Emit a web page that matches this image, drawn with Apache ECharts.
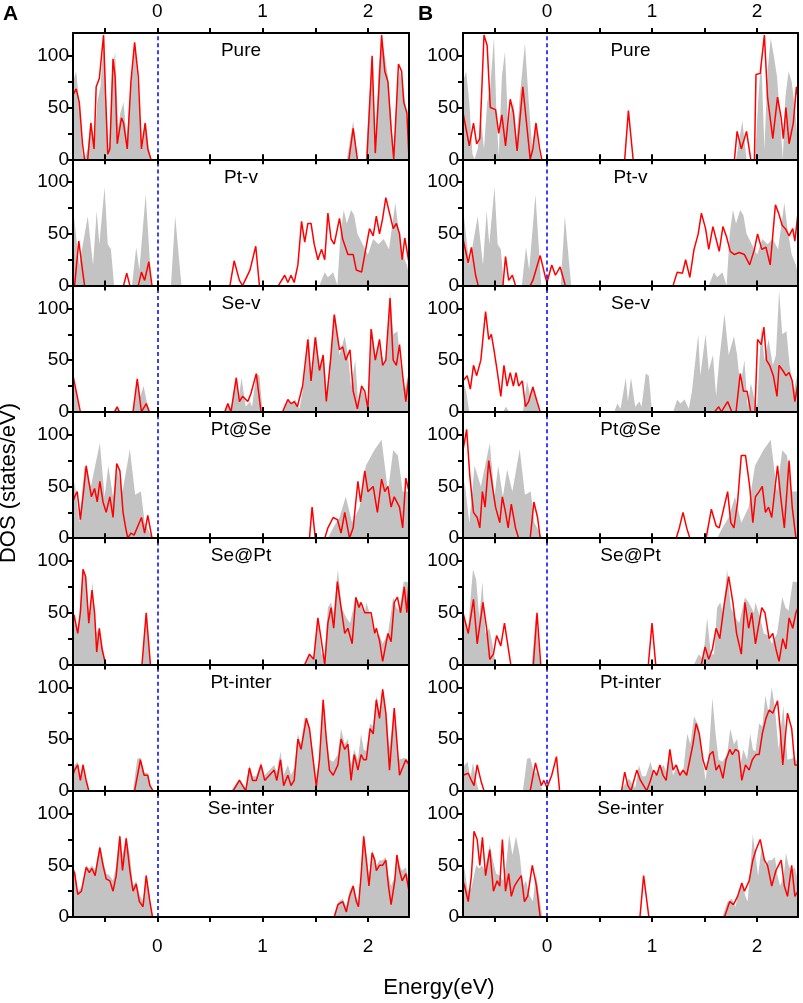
<!DOCTYPE html>
<html lang="en">
<head>
  <meta charset="UTF-8">
  <title>DOS panels</title>
  <script src="https://cdn.jsdelivr.net/npm/echarts@6/dist/echarts.min.js"></script>
  <style>
    html, body { margin: 0; padding: 0; background: #ffffff; }
    #chart { width: 803px; height: 1003px; }
  </style>
</head>
<body>
  <div id="chart"></div>
  <script>
    // grey = total DOS (same in both columns), red A / red B = projected DOS
    // every point is [energy (eV), DOS (states/eV)]
    var pureGrey = [[-0.80,75],[-0.77,85],[-0.74,55],[-0.71,5],[-0.69,0],[-0.66,10],[-0.63,40],[-0.60,10],[-0.57,55],[-0.54,70],[-0.505,118],[-0.48,40],[-0.46,3],[-0.43,80],[-0.40,104],[-0.37,30],[-0.35,45],[-0.32,55],[-0.29,20],[-0.26,60],[-0.21,112],[-0.17,50],[-0.14,10],[-0.11,38],[-0.08,10],[-0.06,0],[1.80,0],[1.86,37],[1.90,0],[1.98,0],[2.01,55],[2.04,100],[2.07,10],[2.10,85],[2.13,117],[2.16,100],[2.19,80],[2.22,40],[2.245,0],[2.27,60],[2.30,85],[2.33,75],[2.36,50],[2.39,15]];
    var pureRedA = [[-0.80,62],[-0.77,68],[-0.74,55],[-0.71,15],[-0.69,0],[-0.66,0],[-0.63,35],[-0.60,10],[-0.58,70],[-0.55,78],[-0.51,120],[-0.49,60],[-0.47,5],[-0.45,10],[-0.42,97],[-0.40,80],[-0.38,15],[-0.34,40],[-0.32,35],[-0.285,10],[-0.25,75],[-0.215,113],[-0.18,80],[-0.15,10],[-0.115,35],[-0.09,10],[-0.06,0],[1.82,0],[1.86,30],[1.90,0],[1.99,0],[2.04,100],[2.07,6],[2.10,60],[2.13,120],[2.16,85],[2.19,75],[2.22,30],[2.245,0],[2.27,50],[2.29,92],[2.32,85],[2.34,55],[2.37,45],[2.39,0]];
    var pureRedB = [[-0.80,45],[-0.74,13],[-0.70,35],[-0.67,15],[-0.64,20],[-0.60,120],[-0.57,110],[-0.54,50],[-0.49,48],[-0.46,25],[-0.43,43],[-0.395,13],[-0.35,58],[-0.32,45],[-0.285,8],[-0.23,70],[-0.19,30],[-0.16,0],[-0.135,10],[-0.105,35],[-0.07,10],[-0.05,0],[0.74,0],[0.775,47],[0.82,0],[1.785,0],[1.81,27],[1.85,10],[1.90,27],[1.94,0],[1.975,0],[1.99,82],[2.03,83],[2.07,120],[2.10,60],[2.15,20],[2.195,60],[2.23,40],[2.25,20],[2.275,50],[2.305,15],[2.345,35],[2.375,70],[2.39,60]];

    var ptvGrey = [[-0.80,75],[-0.74,20],[-0.66,67],[-0.61,20],[-0.575,72],[-0.55,40],[-0.50,95],[-0.47,40],[-0.44,35],[-0.41,0],[-0.24,0],[-0.20,37],[-0.17,15],[-0.11,88],[-0.08,40],[-0.055,0],[0.13,0],[0.17,67],[0.23,0],[1.54,0],[1.59,13],[1.62,8],[1.67,13],[1.71,0],[1.74,50],[1.77,73],[1.80,60],[1.84,73],[1.87,68],[1.90,50],[1.95,40],[2.0,30],[2.05,45],[2.10,40],[2.15,45],[2.20,35],[2.26,80],[2.29,55],[2.33,30],[2.37,20],[2.39,10]];
    var ptvRedA = [[-0.80,0],[-0.785,0],[-0.745,43],[-0.71,15],[-0.69,0],[-0.32,0],[-0.29,12],[-0.26,0],[-0.18,0],[-0.15,13],[-0.12,5],[-0.08,23],[-0.05,0],[0.69,0],[0.73,24],[0.78,5],[0.81,0],[0.88,15],[0.935,38],[0.97,0],[1.15,0],[1.21,10],[1.24,3],[1.27,10],[1.30,3],[1.335,20],[1.37,62],[1.40,42],[1.43,60],[1.46,60],[1.49,40],[1.525,25],[1.56,35],[1.59,25],[1.62,70],[1.65,45],[1.68,40],[1.73,65],[1.76,45],[1.81,30],[1.86,30],[1.89,15],[1.94,13],[1.97,30],[2.015,55],[2.05,48],[2.08,67],[2.11,50],[2.14,65],[2.17,85],[2.205,70],[2.24,55],[2.27,60],[2.30,50],[2.325,25],[2.35,46],[2.39,22]];
    var ptvRedB = [[-0.80,45],[-0.75,22],[-0.72,37],[-0.68,10],[-0.655,0],[-0.42,0],[-0.395,28],[-0.365,5],[-0.33,10],[-0.30,0],[-0.16,0],[-0.135,5],[-0.065,29],[-0.015,8],[0,3],[0.045,20],[0.08,10],[0.125,18],[0.175,0],[1.20,0],[1.24,13],[1.29,12],[1.32,25],[1.36,8],[1.40,35],[1.44,50],[1.47,70],[1.51,55],[1.54,35],[1.58,57],[1.61,45],[1.64,33],[1.675,57],[1.71,47],[1.745,33],[1.785,30],[1.83,32],[1.88,30],[1.93,20],[1.975,35],[2.005,50],[2.045,35],[2.085,37],[2.125,20],[2.175,78],[2.205,70],[2.24,58],[2.27,55],[2.305,48],[2.34,55],[2.36,43],[2.39,70]];

    var sevGrey = [[-0.80,30],[-0.77,20],[-0.74,0],[-0.42,0],[-0.39,5],[-0.36,0],[-0.23,0],[-0.19,30],[-0.16,15],[-0.13,25],[-0.10,10],[-0.07,0],[0.64,0],[0.67,8],[0.70,3],[0.75,33],[0.77,10],[0.80,33],[0.84,5],[0.88,10],[0.90,5],[0.94,37],[0.97,35],[1.0,0],[1.2,0],[1.24,12],[1.27,8],[1.31,12],[1.35,3],[1.38,20],[1.44,75],[1.46,35],[1.51,75],[1.54,40],[1.58,55],[1.61,15],[1.64,50],[1.69,95],[1.73,55],[1.78,73],[1.81,55],[1.84,25],[1.88,50],[1.91,5],[1.94,28],[1.97,15],[2.0,5],[2.04,82],[2.07,50],[2.11,70],[2.15,45],[2.18,55],[2.21,117],[2.24,75],[2.28,78],[2.31,45],[2.35,20],[2.39,40]];
    var sevRedA = [[-0.80,35],[-0.785,35],[-0.75,10],[-0.73,0],[-0.405,0],[-0.38,5],[-0.36,0],[-0.23,0],[-0.19,32],[-0.15,0],[-0.105,8],[-0.075,0],[0.64,0],[0.67,8],[0.70,0],[0.75,33],[0.78,10],[0.81,15],[0.86,10],[0.89,18],[0.94,37],[0.985,0],[1.19,0],[1.24,12],[1.27,8],[1.30,10],[1.33,5],[1.38,25],[1.43,70],[1.46,30],[1.50,72],[1.54,40],[1.575,55],[1.605,10],[1.645,50],[1.68,94],[1.73,60],[1.76,63],[1.79,50],[1.83,60],[1.86,20],[1.90,3],[1.94,25],[1.97,20],[2.0,3],[2.03,80],[2.07,50],[2.11,70],[2.14,45],[2.17,50],[2.21,110],[2.24,50],[2.27,45],[2.30,65],[2.33,35],[2.36,10],[2.39,35]];
    var sevRedB = [[-0.80,30],[-0.76,35],[-0.73,22],[-0.70,45],[-0.67,35],[-0.63,50],[-0.585,97],[-0.555,70],[-0.53,75],[-0.505,60],[-0.475,40],[-0.44,15],[-0.41,45],[-0.38,25],[-0.35,38],[-0.32,25],[-0.295,38],[-0.27,25],[-0.235,30],[-0.205,5],[-0.175,10],[-0.135,24],[-0.095,10],[-0.065,0],[1.595,0],[1.635,5],[1.66,0],[1.72,10],[1.76,0],[1.80,0],[1.84,37],[1.87,20],[1.905,20],[1.94,0],[1.98,0],[2.005,70],[2.04,65],[2.065,82],[2.09,50],[2.12,45],[2.155,35],[2.19,15],[2.21,45],[2.245,40],[2.275,35],[2.305,38],[2.335,30],[2.36,10],[2.39,28]];

    var ptseGrey = [[-0.80,30],[-0.785,55],[-0.74,15],[-0.69,70],[-0.63,50],[-0.545,92],[-0.50,40],[-0.465,70],[-0.42,40],[-0.38,66],[-0.33,45],[-0.26,86],[-0.21,42],[-0.155,45],[-0.12,15],[-0.07,5],[-0.04,0],[1.62,0],[1.67,10],[1.73,20],[1.79,40],[1.85,15],[1.92,30],[1.98,70],[2.06,85],[2.13,95],[2.19,45],[2.24,85],[2.285,80],[2.33,45],[2.39,45]];
    var ptseRedA = [[-0.80,35],[-0.785,40],[-0.76,45],[-0.73,18],[-0.70,45],[-0.675,70],[-0.65,55],[-0.625,40],[-0.595,48],[-0.57,35],[-0.545,55],[-0.515,35],[-0.485,25],[-0.45,40],[-0.42,20],[-0.385,72],[-0.355,65],[-0.325,25],[-0.30,10],[-0.28,0],[-0.25,5],[-0.22,3],[-0.15,20],[-0.12,5],[-0.09,22],[-0.05,0],[1.445,0],[1.47,30],[1.50,0],[1.59,0],[1.62,10],[1.67,20],[1.71,18],[1.745,5],[1.78,25],[1.825,0],[1.86,10],[1.905,55],[1.93,35],[1.97,65],[2.0,45],[2.05,50],[2.09,25],[2.13,57],[2.16,45],[2.19,50],[2.22,30],[2.25,40],[2.30,30],[2.33,10],[2.36,58],[2.39,45]];
    var ptseRedB = [[-0.80,85],[-0.765,105],[-0.735,60],[-0.70,25],[-0.665,20],[-0.64,10],[-0.615,45],[-0.59,30],[-0.555,75],[-0.52,50],[-0.49,30],[-0.45,15],[-0.425,40],[-0.395,25],[-0.37,10],[-0.34,33],[-0.30,10],[-0.27,0],[-0.16,0],[-0.125,35],[-0.09,20],[-0.065,0],[1.23,0],[1.26,10],[1.295,25],[1.33,10],[1.36,0],[1.515,0],[1.565,28],[1.61,12],[1.64,10],[1.72,45],[1.75,15],[1.78,10],[1.815,35],[1.85,80],[1.89,80],[1.93,50],[1.96,15],[1.985,40],[2.02,45],[2.05,50],[2.08,25],[2.11,30],[2.14,20],[2.195,70],[2.225,40],[2.26,10],[2.305,75],[2.335,30],[2.37,0],[2.39,0]];

    var septGrey = [[-0.80,50],[-0.785,45],[-0.755,30],[-0.705,92],[-0.675,82],[-0.645,45],[-0.615,80],[-0.585,30],[-0.55,35],[-0.52,20],[-0.49,0],[-0.145,0],[-0.105,50],[-0.065,0],[1.40,0],[1.445,10],[1.485,5],[1.525,45],[1.56,10],[1.59,10],[1.62,55],[1.65,60],[1.675,50],[1.715,92],[1.75,55],[1.795,45],[1.83,40],[1.885,65],[1.92,60],[1.97,50],[1.985,60],[2.03,45],[2.065,30],[2.11,28],[2.14,20],[2.19,30],[2.24,65],[2.27,55],[2.30,52],[2.34,80],[2.37,80],[2.39,78]];
    var septRedA = [[-0.80,40],[-0.79,48],[-0.755,30],[-0.73,50],[-0.705,92],[-0.68,85],[-0.65,40],[-0.62,72],[-0.595,50],[-0.575,12],[-0.55,35],[-0.525,15],[-0.49,0],[-0.145,0],[-0.105,50],[-0.065,0],[1.40,0],[1.445,10],[1.485,5],[1.525,45],[1.555,25],[1.59,0],[1.62,40],[1.65,55],[1.675,35],[1.71,80],[1.745,55],[1.78,30],[1.81,35],[1.85,20],[1.885,65],[1.915,55],[1.935,60],[1.97,50],[2.0,50],[2.03,50],[2.065,30],[2.08,35],[2.11,23],[2.14,3],[2.19,30],[2.22,22],[2.25,60],[2.28,65],[2.31,50],[2.345,75],[2.37,50],[2.39,80]];
    var septRedB = [[-0.80,50],[-0.79,50],[-0.75,30],[-0.70,63],[-0.665,20],[-0.61,60],[-0.575,35],[-0.545,5],[-0.51,10],[-0.48,28],[-0.44,18],[-0.405,40],[-0.375,20],[-0.345,0],[-0.13,0],[-0.095,50],[-0.06,0],[0.965,0],[1.0,40],[1.035,0],[1.47,0],[1.505,17],[1.54,5],[1.575,15],[1.61,35],[1.645,25],[1.69,60],[1.73,85],[1.77,60],[1.805,30],[1.85,10],[1.885,60],[1.92,35],[1.95,50],[1.985,20],[2.045,55],[2.075,50],[2.115,25],[2.15,30],[2.18,15],[2.21,3],[2.245,25],[2.275,15],[2.305,45],[2.34,35],[2.37,50],[2.39,55]];

    var pintGrey = [[-0.80,20],[-0.785,25],[-0.755,28],[-0.73,12],[-0.705,27],[-0.675,10],[-0.65,0],[-0.23,0],[-0.19,31],[-0.16,32],[-0.125,18],[-0.09,17],[-0.07,8],[-0.04,0],[0.70,0],[0.78,12],[0.81,7],[0.84,3],[0.875,25],[0.905,14],[0.94,14],[0.985,28],[1.02,15],[1.065,20],[1.11,25],[1.135,18],[1.17,38],[1.20,15],[1.24,25],[1.27,15],[1.30,22],[1.335,55],[1.365,45],[1.40,72],[1.445,62],[1.49,25],[1.51,10],[1.54,35],[1.575,90],[1.605,55],[1.635,30],[1.67,28],[1.715,35],[1.745,60],[1.78,45],[1.81,50],[1.84,25],[1.87,40],[1.905,30],[1.935,55],[1.96,40],[1.985,38],[2.02,65],[2.05,62],[2.08,92],[2.11,75],[2.14,100],[2.17,80],[2.205,40],[2.25,82],[2.29,30],[2.35,32],[2.39,28]];
    var pintRedA = [[-0.80,15],[-0.785,20],[-0.755,25],[-0.73,10],[-0.705,25],[-0.675,10],[-0.65,0],[-0.215,0],[-0.16,30],[-0.125,15],[-0.09,15],[-0.07,5],[-0.04,0],[0.72,0],[0.78,10],[0.81,5],[0.84,0],[0.875,22],[0.905,10],[0.94,10],[0.985,25],[1.02,10],[1.065,15],[1.11,20],[1.135,10],[1.17,30],[1.20,5],[1.24,15],[1.27,5],[1.30,10],[1.335,50],[1.365,40],[1.415,70],[1.445,60],[1.51,4],[1.54,30],[1.575,88],[1.605,50],[1.635,20],[1.67,15],[1.715,25],[1.745,50],[1.78,40],[1.81,45],[1.84,10],[1.87,35],[1.905,20],[1.935,35],[1.96,30],[1.985,30],[2.02,60],[2.05,55],[2.08,88],[2.11,70],[2.14,98],[2.17,75],[2.205,20],[2.25,80],[2.30,15],[2.36,30],[2.39,25]];
    var pintRedB = [[-0.80,15],[-0.75,17],[-0.72,10],[-0.695,5],[-0.665,25],[-0.63,10],[-0.60,0],[-0.16,0],[-0.11,27],[-0.08,15],[-0.055,5],[-0.03,10],[0,3],[0.045,15],[0.09,33],[0.12,0],[0.71,0],[0.74,18],[0.77,5],[0.80,0],[0.855,20],[0.89,10],[0.92,5],[0.95,0],[0.985,10],[1.015,20],[1.045,15],[1.075,25],[1.105,15],[1.135,10],[1.17,40],[1.20,20],[1.23,25],[1.265,15],[1.295,20],[1.33,15],[1.36,30],[1.39,45],[1.42,65],[1.45,55],[1.485,30],[1.515,20],[1.55,35],[1.58,38],[1.61,20],[1.64,25],[1.675,12],[1.705,30],[1.74,40],[1.765,35],[1.795,40],[1.825,38],[1.855,10],[1.89,25],[1.925,20],[1.955,30],[1.99,35],[2.02,35],[2.05,55],[2.085,70],[2.115,78],[2.15,75],[2.195,87],[2.22,60],[2.245,25],[2.29,75],[2.33,60],[2.36,25],[2.39,25]];

    var seintGrey = [[-0.80,48],[-0.785,46],[-0.755,25],[-0.72,28],[-0.675,50],[-0.645,47],[-0.62,50],[-0.59,45],[-0.545,70],[-0.515,55],[-0.485,42],[-0.45,40],[-0.42,35],[-0.39,50],[-0.36,80],[-0.33,60],[-0.295,78],[-0.26,60],[-0.23,30],[-0.20,35],[-0.17,22],[-0.135,15],[-0.105,42],[-0.07,18],[-0.045,0],[1.67,0],[1.715,14],[1.76,18],[1.795,10],[1.825,25],[1.86,32],[1.89,20],[1.91,15],[1.935,45],[1.96,80],[1.985,60],[2.01,40],[2.04,65],[2.065,58],[2.08,50],[2.11,55],[2.14,55],[2.17,58],[2.195,40],[2.22,30],[2.255,40],[2.275,62],[2.30,50],[2.325,45],[2.36,48],[2.39,35]];
    var seintRedA = [[-0.80,45],[-0.785,43],[-0.755,22],[-0.72,25],[-0.675,48],[-0.645,43],[-0.62,47],[-0.59,40],[-0.545,67],[-0.515,50],[-0.485,37],[-0.45,35],[-0.42,25],[-0.39,40],[-0.355,78],[-0.33,45],[-0.295,76],[-0.26,45],[-0.23,25],[-0.20,32],[-0.17,15],[-0.135,10],[-0.105,40],[-0.07,15],[-0.045,0],[1.68,0],[1.715,12],[1.76,15],[1.795,5],[1.825,20],[1.86,30],[1.89,15],[1.91,10],[1.935,40],[1.96,78],[1.985,55],[2.01,30],[2.04,62],[2.065,55],[2.08,45],[2.11,50],[2.14,50],[2.17,55],[2.195,30],[2.22,12],[2.255,35],[2.275,60],[2.30,45],[2.325,35],[2.36,42],[2.39,25]];
    var seintRedB = [[-0.80,35],[-0.785,30],[-0.75,15],[-0.72,40],[-0.695,83],[-0.665,75],[-0.64,50],[-0.615,77],[-0.585,40],[-0.545,65],[-0.51,25],[-0.475,35],[-0.45,30],[-0.425,75],[-0.395,25],[-0.365,42],[-0.34,20],[-0.31,30],[-0.28,35],[-0.245,40],[-0.215,15],[-0.185,20],[-0.14,50],[-0.10,30],[-0.065,0],[0.885,0],[0.92,40],[0.97,0],[1.69,0],[1.74,15],[1.775,12],[1.815,20],[1.855,33],[1.88,25],[1.925,35],[1.96,55],[1.99,65],[2.03,75],[2.07,55],[2.10,50],[2.14,30],[2.18,45],[2.23,55],[2.26,30],[2.29,20],[2.33,50],[2.36,20],[2.39,25]];

    var panelNames = ['Pure', 'Pt-v', 'Se-v', 'Pt@Se', 'Se@Pt', 'Pt-inter', 'Se-inter'];
    var greyRows = [pureGrey, ptvGrey, sevGrey, ptseGrey, septGrey, pintGrey, seintGrey];
    var redRowsA = [pureRedA, ptvRedA, sevRedA, ptseRedA, septRedA, pintRedA, seintRedA];
    var redRowsB = [pureRedB, ptvRedB, sevRedB, ptseRedB, septRedB, pintRedB, seintRedB];
    var xTickValues = [-0.5, 0, 0.5, 1, 1.5, 2];
    var xLabelValues = [0, 1, 2];
    var yTickValues = [0, 25, 50, 75, 100];
    var yLabelValues = [0, 50, 100];

    var FONT = 'Liberation Sans, Arial, sans-serif';
    var colLeft = [73, 463];
    var colWidth = [336, 335];
    var rowTop = 33, rowH = 126.3;

    function blackLine() { return { color: '#000000', width: 2 }; }

    // split a red curve into pieces wherever it lies on zero, so no red line
    // is painted along the black bottom border
    function splitAtZeroRuns(points) {
      var pieces = [], cur = [];
      for (var i = 0; i < points.length; i++) {
        var p = [points[i][0], points[i][1]];
        var nxt = points[i + 1];
        cur.push(p);
        if (nxt && p[1] === 0 && nxt[1] === 0) {
          if (cur.length > 1) pieces.push(cur);
          cur = [];
        }
      }
      if (cur.length > 1) pieces.push(cur);
      return pieces;
    }

    function buildOption(withSplit) {
      var grids = [], xAxes = [], yAxes = [], series = [], graphics = [];
      for (var c = 0; c < 2; c++) {
        for (var r = 0; r < 7; r++) {
          var g = grids.length;
          var top = rowTop + r * rowH;
          grids.push({ left: colLeft[c], top: top, width: colWidth[c], height: rowH });

          for (var k = 0; k < 2; k++) {
            var showLab = (k === 0 && r === 6) || (k === 1 && r === 0);
            xAxes.push({
              gridIndex: g, type: 'value', position: k === 0 ? 'bottom' : 'top', min: -0.8, max: 2.39, z: 10,
              axisLine: { show: true, onZero: false, lineStyle: blackLine() },
              axisTick: { show: true, inside: false, length: 5, customValues: xTickValues.slice(), lineStyle: blackLine() },
              axisLabel: { show: showLab, customValues: xLabelValues.slice(), margin: k === 1 ? 12 : 20,
                           fontSize: 19, color: '#000', fontFamily: FONT },
              splitLine: { show: false }
            });
          }
          yAxes.push({
            gridIndex: g, type: 'value', position: 'left', min: 0, max: 122, z: 10,
            axisLine: { show: true, onZero: false, lineStyle: blackLine() },
            axisTick: { show: true, inside: false, length: 5, customValues: yTickValues.slice(), lineStyle: blackLine() },
            axisLabel: { show: true, customValues: yLabelValues.slice(), margin: 4, fontSize: 19, color: '#000', fontFamily: FONT },
            splitLine: { show: false }
          });
          yAxes.push({
            gridIndex: g, type: 'value', position: 'right', min: 0, max: 122, z: 10,
            axisLine: { show: true, onZero: false, lineStyle: blackLine() },
            axisTick: { show: false }, axisLabel: { show: false }, splitLine: { show: false }
          });

          series.push({
            type: 'line', xAxisIndex: g * 2, yAxisIndex: g * 2,
            data: greyRows[r].map(function (p) { return [p[0], p[1]]; }),
            symbol: 'none', silent: true,
            lineStyle: { width: 0, color: '#c3c3c3' },
            areaStyle: { color: '#c3c3c3', opacity: 1 },
            markLine: {
              silent: true, symbol: ['none', 'none'], label: { show: false },
              lineStyle: { color: '#0000ff', type: [4, 3], width: 1.5 },
              data: [{ xAxis: 0 }]
            }
          });
          var red = c === 0 ? redRowsA[r] : redRowsB[r];
          var pieces = withSplit ? splitAtZeroRuns(red) : [red.map(function (p) { return [p[0], p[1]]; })];
          pieces.forEach(function (piece) {
            series.push({
              type: 'line', xAxisIndex: g * 2, yAxisIndex: g * 2, data: piece,
              symbol: 'none', silent: true,
              lineStyle: { width: 1.5, color: '#ff0000' }
            });
          });

          graphics.push({
            type: 'text',
            style: { x: colLeft[c] + colWidth[c] / 2, y: top + 18, text: panelNames[r],
                     textAlign: 'center', textVerticalAlign: 'middle',
                     font: '19px ' + FONT, fill: '#000' }
          });
        }
      }

      graphics.push({ type: 'text', style: { x: 3, y: 14, text: 'A', textVerticalAlign: 'middle', font: 'bold 21px ' + FONT, fill: '#000' } });
      graphics.push({ type: 'text', style: { x: 418, y: 14, text: 'B', textVerticalAlign: 'middle', font: 'bold 21px ' + FONT, fill: '#000' } });
      graphics.push({ type: 'text', style: { x: 439, y: 988, text: 'Energy(eV)', textAlign: 'center', textVerticalAlign: 'middle', font: '22px ' + FONT, fill: '#000' } });
      graphics.push({ type: 'text', x: 9, y: 483, rotation: Math.PI / 2,
        style: { x: 0, y: 0, text: 'DOS (states/eV)', textAlign: 'center', textVerticalAlign: 'middle', font: '22px ' + FONT, fill: '#000' } });

      return { animation: false, grid: grids, xAxis: xAxes, yAxis: yAxes, series: series, graphic: graphics };
    }

    var dom = document.getElementById('chart');
    var chart = echarts.init(dom);
    try {
      chart.setOption(buildOption(true));
      chart.getZr().refreshImmediately();
    } catch (e) {
      chart.dispose();
      chart = echarts.init(dom);
      chart.setOption(buildOption(false));
    }
  </script>
</body>
</html>
